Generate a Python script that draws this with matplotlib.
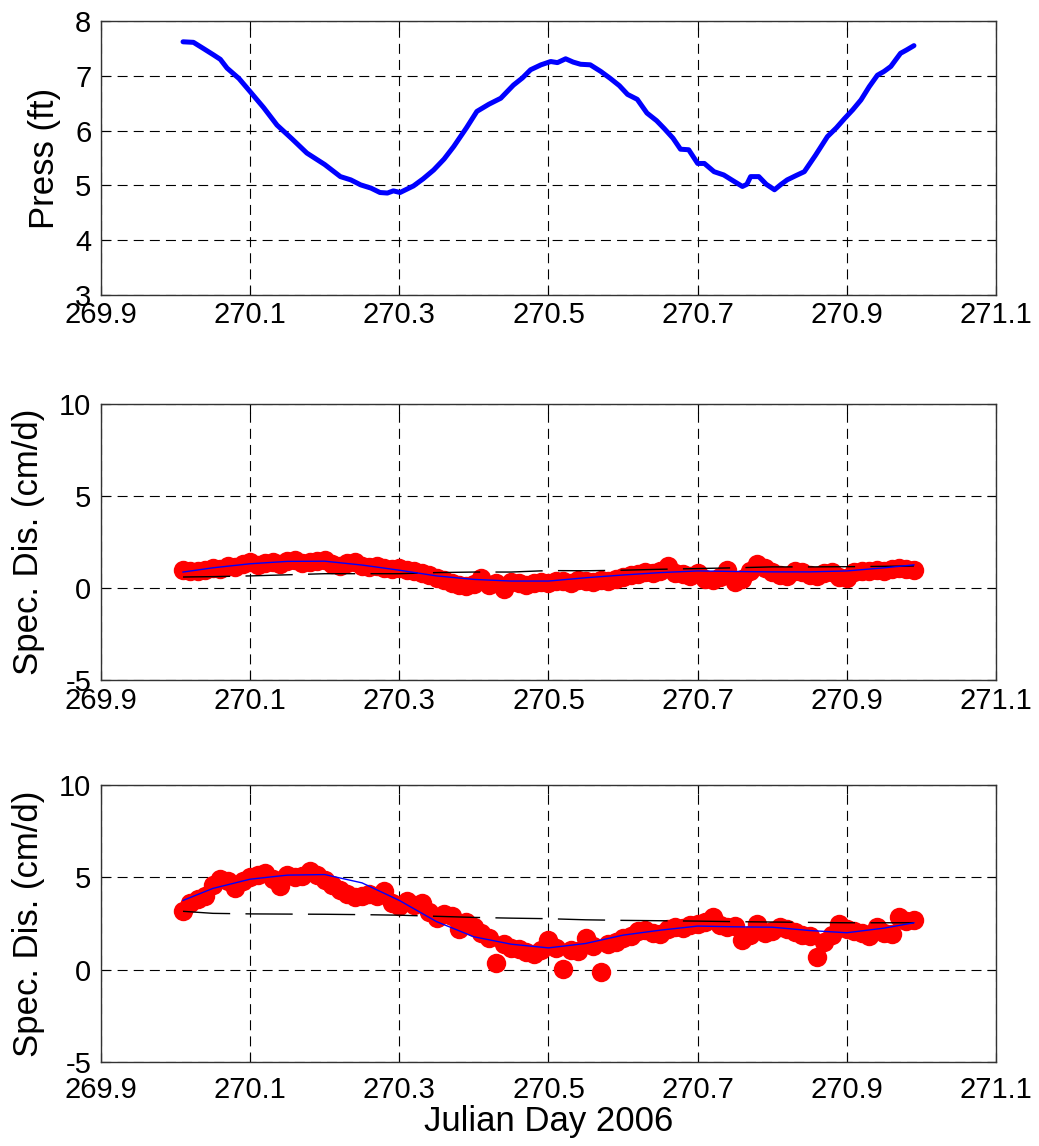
import numpy as np
import matplotlib
matplotlib.use("Agg")
import matplotlib.pyplot as plt

plt.rcParams['font.family'] = ['Liberation Sans', 'DejaVu Sans']
plt.rcParams['axes.unicode_minus'] = False

# Pressure record (top panel)
press_day = [270.010, 270.024, 270.037, 270.051, 270.060, 270.069, 270.085, 270.100,
             270.118, 270.136, 270.156, 270.176, 270.200, 270.221, 270.235, 270.248,
             270.262, 270.274, 270.284, 270.292, 270.301, 270.310, 270.319, 270.332,
             270.346, 270.360, 270.373, 270.390, 270.404, 270.420, 270.436, 270.453,
             270.465, 270.476, 270.490, 270.503, 270.512, 270.523, 270.533, 270.543,
             270.556, 270.570, 270.583, 270.595, 270.606, 270.619, 270.632, 270.645,
             270.655, 270.667, 270.677, 270.688, 270.700, 270.709, 270.722, 270.735,
             270.748, 270.760, 270.766, 270.771, 270.782, 270.792, 270.803, 270.812,
             270.820, 270.832, 270.843, 270.858, 270.874, 270.886, 270.897, 270.908,
             270.919, 270.930, 270.941, 270.950, 270.959, 270.966, 270.972, 270.980,
             270.990]
press_ft = [7.62, 7.61, 7.50, 7.38, 7.30, 7.14, 6.95, 6.71,
            6.42, 6.10, 5.85, 5.59, 5.38, 5.16, 5.10, 5.01,
            4.95, 4.87, 4.86, 4.90, 4.87, 4.93, 4.99, 5.12,
            5.28, 5.48, 5.71, 6.05, 6.35, 6.48, 6.59, 6.83,
            6.96, 7.11, 7.20, 7.26, 7.24, 7.31, 7.25, 7.21,
            7.20, 7.08, 6.95, 6.82, 6.66, 6.57, 6.32, 6.18,
            6.04, 5.86, 5.66, 5.65, 5.40, 5.40, 5.25, 5.19,
            5.08, 4.98, 5.02, 5.16, 5.16, 5.02, 4.92, 5.02,
            5.10, 5.18, 5.25, 5.55, 5.89, 6.05, 6.22, 6.38,
            6.56, 6.80, 7.01, 7.08, 7.17, 7.30, 7.41, 7.47,
            7.55]

# Specific discharge samples (middle and bottom panels)
dis_day = [270.01, 270.02, 270.03, 270.04, 270.05, 270.06, 270.07, 270.08, 270.09, 270.10,
           270.11, 270.12, 270.13, 270.14, 270.15, 270.16, 270.17, 270.18, 270.19, 270.20,
           270.21, 270.22, 270.23, 270.24, 270.25, 270.26, 270.27, 270.28, 270.29, 270.30,
           270.31, 270.32, 270.33, 270.34, 270.35, 270.36, 270.37, 270.38, 270.39, 270.40,
           270.41, 270.42, 270.43, 270.44, 270.45, 270.46, 270.47, 270.48, 270.49, 270.50,
           270.51, 270.52, 270.53, 270.54, 270.55, 270.56, 270.57, 270.58, 270.59, 270.60,
           270.61, 270.62, 270.63, 270.64, 270.65, 270.66, 270.67, 270.68, 270.69, 270.70,
           270.71, 270.72, 270.73, 270.74, 270.75, 270.76, 270.77, 270.78, 270.79, 270.80,
           270.81, 270.82, 270.83, 270.84, 270.85, 270.86, 270.87, 270.88, 270.89, 270.90,
           270.91, 270.92, 270.93, 270.94, 270.95, 270.96, 270.97, 270.98, 270.99]

dis_mid = [1.00, 0.90, 0.95, 1.00, 1.10, 1.05, 1.20, 1.15, 1.30, 1.40,
           1.25, 1.35, 1.40, 1.30, 1.45, 1.50, 1.35, 1.40, 1.45, 1.55,
           1.30, 1.20, 1.35, 1.40, 1.20, 1.15, 1.20, 1.10, 1.05, 1.10,
           1.00, 0.95, 0.80, 0.70, 0.55, 0.45, 0.30, 0.15, 0.10, 0.20,
           0.55, 0.15, 0.30, -0.05, 0.35, 0.25, 0.15, 0.30, 0.35, 0.30,
           0.40, 0.40, 0.30, 0.45, 0.40, 0.35, 0.45, 0.40, 0.50, 0.60,
           0.70, 0.75, 0.85, 0.80, 0.95, 1.20, 0.80, 0.75, 0.65, 0.80,
           0.50, 0.45, 0.60, 1.00, 0.35, 0.50, 0.90, 1.30, 1.10, 0.85,
           0.70, 0.65, 0.90, 0.85, 0.70, 0.65, 0.80, 0.85, 0.60, 0.55,
           0.85, 0.90, 0.95, 1.00, 0.95, 1.05, 1.10, 1.05, 1.00]

dis_bot = [3.20, 3.60, 3.80, 4.00, 4.60, 4.90, 4.80, 4.40, 4.80, 5.00,
           5.10, 5.25, 4.90, 4.55, 5.10, 5.00, 5.05, 5.35, 5.10, 4.85,
           4.60, 4.30, 4.10, 3.95, 4.00, 4.10, 4.00, 4.25, 3.60, 3.45,
           3.70, 3.50, 3.60, 3.10, 2.80, 3.00, 2.90, 2.20, 2.60, 2.30,
           2.00, 1.70, 0.35, 1.40, 1.20, 1.10, 0.95, 0.85, 1.05, 1.60,
           1.20, 0.05, 1.05, 1.00, 1.70, 1.30, -0.10, 1.40, 1.50, 1.70,
           1.80, 2.10, 2.15, 2.00, 1.95, 2.20, 2.30, 2.25, 2.40, 2.50,
           2.60, 2.85, 2.40, 2.30, 2.35, 1.60, 1.90, 2.50, 2.00, 2.10,
           2.30, 2.20, 2.05, 1.90, 1.80, 0.70, 1.50, 1.90, 2.50, 2.20,
           2.10, 2.00, 1.85, 2.30, 2.00, 1.95, 2.85, 2.65, 2.70]

# Smooth fit (blue) and reference (black dashed) curves
fit_day = [270.01, 270.05, 270.10, 270.15, 270.20, 270.25, 270.30, 270.35, 270.40, 270.45,
           270.50, 270.55, 270.60, 270.65, 270.70, 270.75, 270.80, 270.85, 270.90, 270.95,
           270.99]
fit_mid = [0.87, 1.10, 1.32, 1.45, 1.46, 1.25, 0.97, 0.66, 0.47, 0.38,
           0.38, 0.56, 0.71, 0.84, 0.93, 0.90, 0.88, 0.88, 0.93, 1.10,
           1.26]
ref_mid = [0.60, 0.62, 0.66, 0.72, 0.78, 0.78, 0.78, 0.84, 0.87, 0.87,
           0.95, 0.94, 0.97, 1.02, 1.06, 1.10, 1.15, 1.15, 1.16, 1.18,
           1.20]
fit_bot = [3.75, 4.40, 4.90, 5.12, 5.15, 4.70, 3.75, 2.60, 1.78, 1.38,
           1.18, 1.42, 1.87, 2.14, 2.36, 2.32, 2.30, 2.12, 2.00, 2.25,
           2.54]
ref_bot = [3.16, 3.05, 3.02, 3.01, 3.00, 2.98, 2.95, 2.89, 2.83, 2.79,
           2.76, 2.70, 2.67, 2.65, 2.63, 2.60, 2.58, 2.56, 2.54, 2.54,
           2.54]

xticks = [269.9, 270.1, 270.3, 270.5, 270.7, 270.9, 271.1]

fig = plt.figure(figsize=(10.39, 11.46), dpi=100)
ax1 = fig.add_axes([0.0972, 0.7426, 0.8614, 0.2391])
ax2 = fig.add_axes([0.0972, 0.4066, 0.8614, 0.2408])
ax3 = fig.add_axes([0.0972, 0.0733, 0.8614, 0.2417])

grid_style = dict(color='k', linestyle=(0, (9, 5.5)), linewidth=0.8)

def style_axis(ax, yticks, xpad):
    ax.set_xlim(269.9, 271.1)
    ax.set_xticks(xticks)
    ax.set_xticklabels([f"{t:.1f}" for t in xticks])
    ax.set_ylim(yticks[0], yticks[-1])
    ax.set_yticks(yticks)
    ax.grid(True, **grid_style)
    ax.tick_params(direction='in', length=6.5, width=0.8, top=True, right=True,
                   labelsize=21)
    ax.tick_params(axis='x', pad=xpad)
    ax.tick_params(axis='y', pad=7)
    for s in ax.spines.values():
        s.set_color('#333333')
        s.set_linewidth(1.0)
    ax.set_axisbelow(True)

ax1.plot(press_day, press_ft, color='#0000ff', linewidth=3.6, solid_capstyle='round')
style_axis(ax1, [3, 4, 5, 6, 7, 8], 4)
ax1.set_ylabel('Press (ft)', fontsize=25, labelpad=10)

for ax, dis, fit, ref, xpad in [(ax2, dis_mid, fit_mid, ref_mid, 5), (ax3, dis_bot, fit_bot, ref_bot, 10)]:
    ax.plot(dis_day, dis, 'o', color='#ff0000', markersize=14, markeredgewidth=0)
    ax.plot(fit_day, ref, color='k', linewidth=1.0, linestyle=(0, (34, 11)))
    ax.plot(fit_day, fit, color='#0000ff', linewidth=1.0)
    style_axis(ax, [-5, 0, 5, 10], xpad)
    ax.set_ylabel('Spec. Dis. (cm/d)', fontsize=25, labelpad=10)

ax3.set_xlabel('Julian Day 2006', fontsize=25, labelpad=1)

fig.savefig('out.png', dpi=100)
